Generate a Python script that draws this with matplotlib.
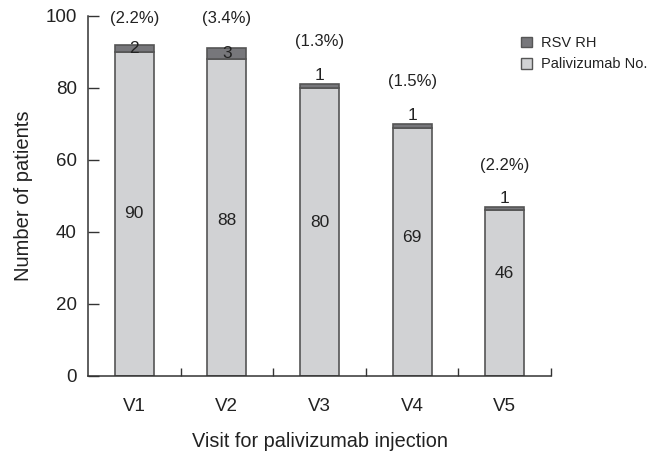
import matplotlib
matplotlib.use("Agg")
import matplotlib.pyplot as plt
from matplotlib.patches import Patch
import numpy as np

plt.rcParams["font.family"] = ["Liberation Sans", "DejaVu Sans"]

# --- Данные ---------------------------------------------------------------
visits = ["V1", "V2", "V3", "V4", "V5"]
paliv_no = [90, 88, 80, 69, 46]
rsv_rh = [2, 3, 1, 1, 1]
pct_labels = ["(2.2%)", "(3.4%)", "(1.3%)", "(1.5%)", "(2.2%)"]

# Высоты подписей (в единицах оси y) — как на исходнике
num_label_y = [45, 43.3, 42.5, 38.6, 28.6]
pct_label_y = [99.4, 99.4, 92.8, 81.7, 58.5]

LIGHT = "#d1d2d4"
DARK = "#77777b"
EDGE = "#555555"
TXT = "#222222"

fig = plt.figure(figsize=(6.49, 4.55), dpi=100)
ax = fig.add_axes([88 / 649, 1 - 376 / 455, (551 - 88) / 649, (376 - 16) / 455])

x = np.arange(len(visits))
w = 0.42
ax.bar(x, paliv_no, width=w, color=LIGHT, edgecolor=EDGE, lw=1.2)
ax.bar(x, rsv_rh, width=w, bottom=paliv_no, color=DARK, edgecolor=EDGE, lw=1.2)

# Подписи: число внутри светлой части, RSV над/на тёмной, проценты сверху
for i in x:
    ax.text(i, num_label_y[i], str(paliv_no[i]), ha="center", va="center",
            fontsize=12.5, color=TXT)
    top = paliv_no[i] + rsv_rh[i]
    if rsv_rh[i] > 1:
        ax.text(i, paliv_no[i] + rsv_rh[i] / 2, str(rsv_rh[i]), ha="center",
                va="center", fontsize=12.5, color=TXT)
    else:
        ax.text(i, top + 0.3, str(rsv_rh[i]), ha="center", va="bottom",
                fontsize=12.5, color=TXT)
    ax.text(i, pct_label_y[i], pct_labels[i], ha="center", va="center",
            fontsize=12, color=TXT, clip_on=False)

ax.set_xlim(-0.5, 4.5)
ax.set_ylim(0, 100)
ax.set_yticks([0, 20, 40, 60, 80, 100])
ax.set_xticks(x)
ax.set_xticklabels(visits)
ax.set_xticks(x + 0.5, minor=True)
ax.tick_params(axis="x", which="major", length=0, pad=16, labelsize=13.5, labelcolor=TXT)
ax.tick_params(axis="x", which="minor", direction="in", length=6, width=1, color="#333333")
ax.tick_params(axis="y", direction="in", length=8, width=1, pad=8, labelsize=13.5,
               color="#333333", labelcolor=TXT)
for s in ("top", "right"):
    ax.spines[s].set_visible(False)
for s in ("left", "bottom"):
    ax.spines[s].set_color("#333333")
    ax.spines[s].set_linewidth(1.1)

ax.set_ylabel("Number of patients", fontsize=14.5, labelpad=9, color=TXT)
ax.set_xlabel("Visit for palivizumab injection", fontsize=14.3, labelpad=12, color=TXT)

handles = [Patch(facecolor=DARK, edgecolor=EDGE, label="RSV RH"),
           Patch(facecolor=LIGHT, edgecolor=EDGE, label="Palivizumab No.")]
fig.legend(handles=handles, loc="upper left", bbox_to_anchor=(521 / 649, 1 - 36 / 455),
           frameon=False, fontsize=10.5, handlelength=0.75, handleheight=0.75,
           handletextpad=0.6, labelspacing=0.5, borderaxespad=0, borderpad=0,
           labelcolor=TXT)

fig.savefig("out.png", dpi=100)
